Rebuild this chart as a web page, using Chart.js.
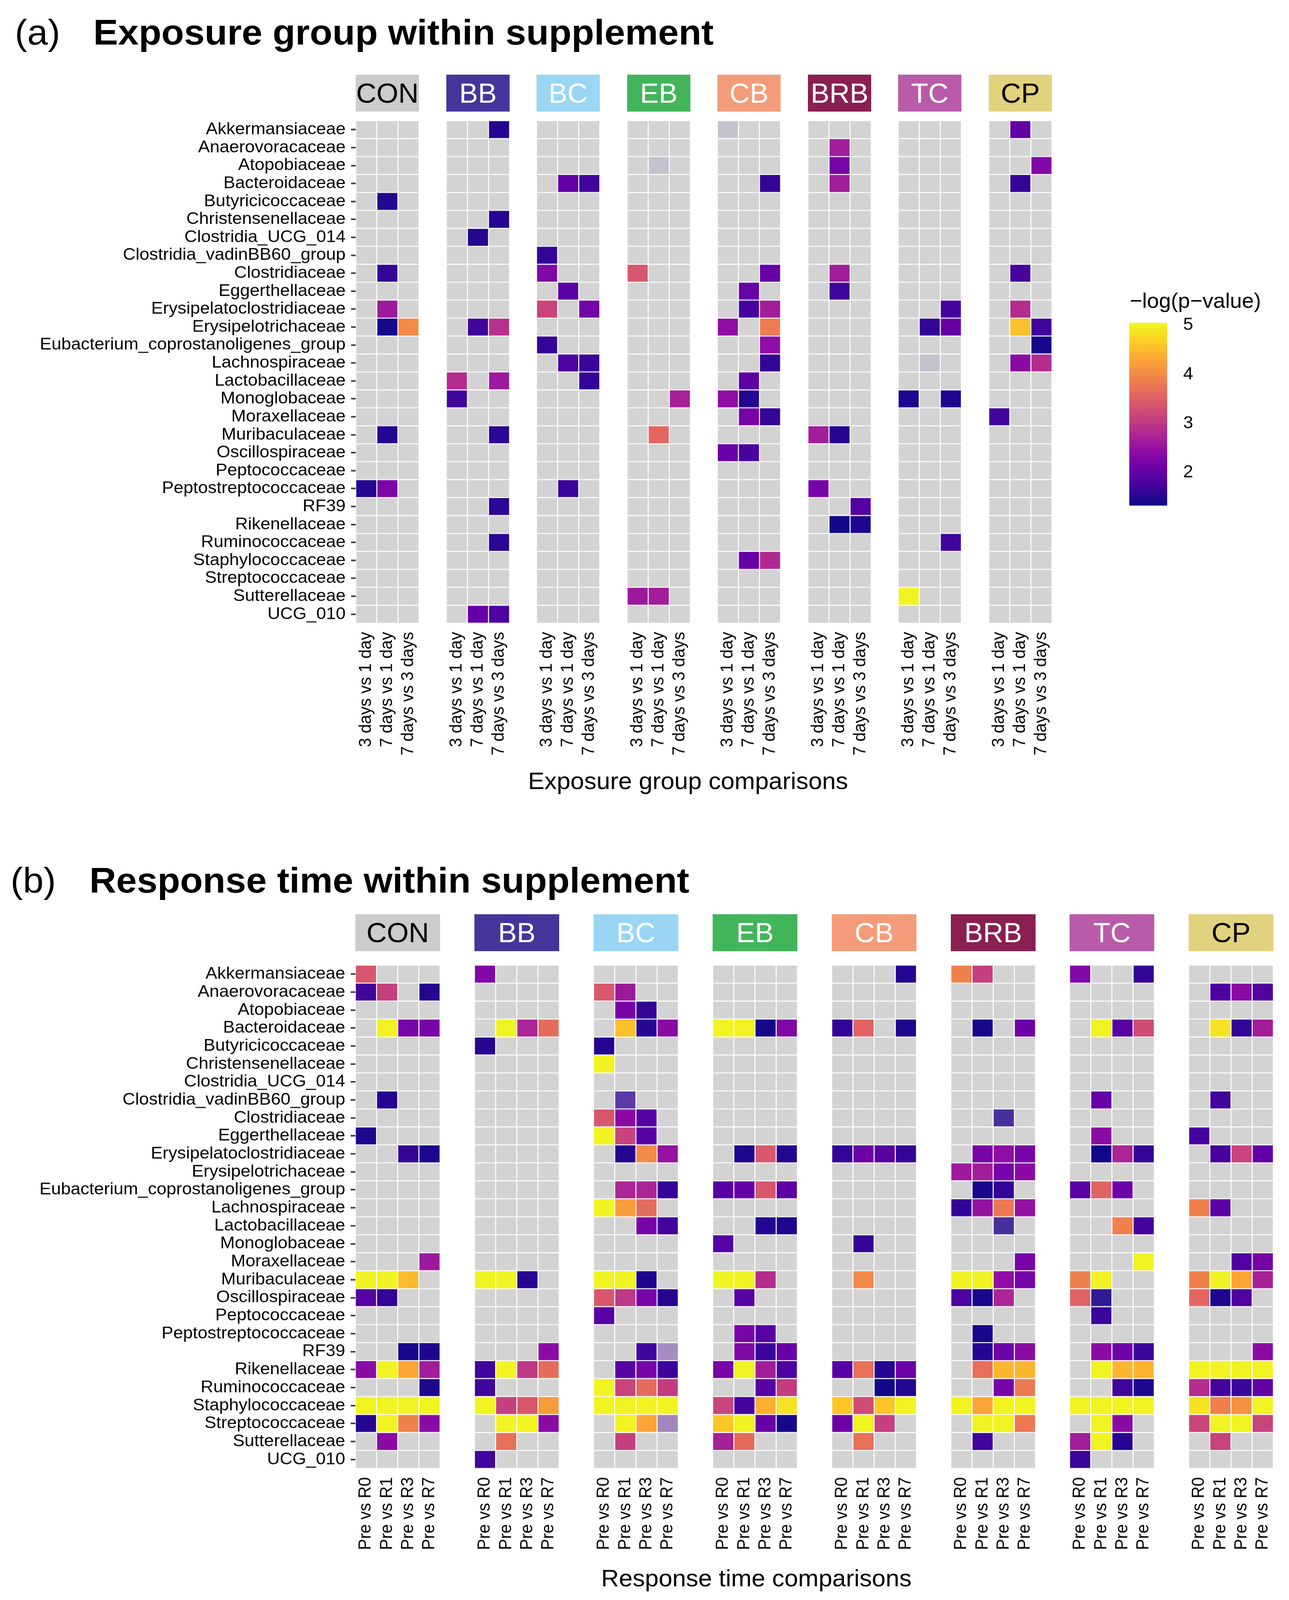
<!DOCTYPE html>
<html>
<head>
<meta charset="utf-8">
<script src="https://cdn.jsdelivr.net/npm/chart.js@4.4.1/dist/chart.umd.min.js"></script>
<style>
html, body { margin: 0; padding: 0; background: #fff; overflow: hidden; }
#page { position: relative; width: 3301px; height: 4244px; overflow: hidden; background: #fff;
        font-family: 'Liberation Sans', Arial, Helvetica, sans-serif; color: #000; transform-origin: 0 0; }
.t { position: absolute; white-space: nowrap; line-height: 1; }
.strip { position: absolute; display: flex; align-items: center; justify-content: center;
         font-size: 72px; line-height: 1; }
canvas { position: absolute; }
</style>
</head>
<body>
<div id="page"></div>
<script>
// ---------------- DATA ----------------
const families = [
  "Akkermansiaceae", "Anaerovoracaceae", "Atopobiaceae", "Bacteroidaceae", "Butyricicoccaceae",
  "Christensenellaceae", "Clostridia_UCG_014", "Clostridia_vadinBB60_group", "Clostridiaceae",
  "Eggerthellaceae", "Erysipelatoclostridiaceae", "Erysipelotrichaceae",
  "Eubacterium_coprostanoligenes_group", "Lachnospiraceae", "Lactobacillaceae", "Monoglobaceae",
  "Moraxellaceae", "Muribaculaceae", "Oscillospiraceae", "Peptococcaceae",
  "Peptostreptococcaceae", "RF39", "Rikenellaceae", "Ruminococcaceae", "Staphylococcaceae",
  "Streptococcaceae", "Sutterellaceae", "UCG_010"
];
const supplements = ["CON", "BB", "BC", "EB", "CB", "BRB", "TC", "CP"];
const exposureComparisons = ["3 days vs 1 day", "7 days vs 1 day", "7 days vs 3 days"];
const responseComparisons = ["Pre vs R0", "Pre vs R1", "Pre vs R3", "Pre vs R7"];
const colorbarMin = 1.33;
const colorbarMax = 5.05;
const colorbarTicks = [2, 3, 4, 5];

// cells: [family index, comparison index, -log(p-value), optional opacity]; missing cells = NA
const expCON = [[4,1,1.5],[8,1,1.6],[10,1,2.6],[11,1,1.4],[11,2,4.0],[17,1,1.5],[20,0,1.5],[20,1,2.25]];
const expBB  = [[0,2,1.5],[5,2,1.5],[6,1,1.5],[11,1,1.7],[11,2,2.9],[14,0,2.85],[14,2,2.6],[15,0,1.7],
                [17,2,1.55],[21,2,1.55],[23,2,1.55],[27,1,2.05],[27,2,1.8]];
const expBC  = [[3,1,2.0],[3,2,1.7],[7,0,1.6],[8,0,2.3],[9,1,1.95],[10,0,3.15],[10,2,2.15],[12,0,1.6],
                [13,1,1.8],[13,2,1.65],[14,2,1.6],[20,1,1.65]];
const expEB  = [[2,1,1.4,0.08],[8,0,3.4],[15,2,2.7],[17,1,3.6],[26,0,2.6],[26,1,2.65]];
const expCB  = [[0,0,1.4,0.08],[3,2,1.6],[8,2,2.05],[9,1,2.05],[10,1,1.75],[10,2,2.65],[11,0,2.45],
                [11,2,3.85],[12,2,2.45],[13,2,1.6],[14,1,1.95],[15,0,2.45],[15,1,1.5],[16,1,2.2],
                [16,2,1.6],[18,0,2.05],[18,1,1.75],[24,1,2.05],[24,2,2.8]];
const expBRB = [[1,1,2.65],[2,1,2.2],[3,1,2.65],[8,1,2.65],[9,1,1.7],[17,0,2.65],[17,1,1.5],[20,0,2.2],
                [21,2,1.85],[22,1,1.35],[22,2,1.45]];
const expTC  = [[10,2,1.75],[11,1,1.6],[11,2,2.05],[13,1,1.4,0.08],[15,0,1.45],[15,2,1.45],[23,2,1.7],[26,0,5.0]];
const expCP  = [[0,1,2.0],[2,2,2.3],[3,1,1.6],[8,1,1.75],[10,1,2.85],[11,1,4.55],[11,2,1.7],[12,2,1.4],
                [13,1,2.4],[13,2,2.85],[16,0,1.7]];

const resCON = [[0,0,3.4],[1,0,1.7],[1,1,3.1],[1,3,1.5],[3,1,5.0],[3,2,2.2],[3,3,2.2],[7,1,1.5],[9,0,1.45],
                [10,2,1.6],[10,3,1.45],[16,3,2.6],[17,0,5.0],[17,1,5.0],[17,2,4.5],[18,0,1.9],[18,1,1.6],
                [21,2,1.4],[21,3,1.45],[22,0,2.4],[22,1,5.0],[22,2,4.3],[22,3,2.65],[23,3,1.45],
                [24,0,5.0],[24,1,5.0],[24,2,5.0],[24,3,5.0],[25,0,1.5],[25,1,5.0],[25,2,3.9],[25,3,2.4],[26,1,2.4]];
const resBB  = [[0,0,2.3],[3,1,5.0],[3,2,2.75],[3,3,3.65],[4,0,1.5],[17,0,5.0],[17,1,5.0],[17,2,1.5],
                [21,3,2.4],[22,0,1.7],[22,1,5.0],[22,2,3.0],[22,3,3.65],[23,0,1.7],[24,0,5.0],[24,1,3.1],
                [24,2,3.4],[24,3,4.2],[25,1,5.0],[25,2,5.0],[25,3,2.4],[26,1,3.7],[27,0,1.7]];
const resBC  = [[1,0,3.4],[1,1,2.6],[2,1,2.2],[2,2,1.6],[3,1,4.55],[3,2,1.5],[3,3,2.4],[4,0,1.5],[5,0,5.0],
                [7,1,1.6,0.75],[8,0,3.4],[8,1,2.4],[8,2,1.9],[9,0,5.0],[9,1,3.15],[9,2,1.9],[10,1,1.5],
                [10,2,4.0],[10,3,2.5],[12,1,2.75],[12,2,2.75],[12,3,1.6],[13,0,5.0],[13,1,4.2],[13,2,3.65],
                [14,2,2.2],[14,3,1.7],[17,0,5.0],[17,1,5.0],[17,2,1.45],[18,0,3.4],[18,1,3.0],[18,2,2.2],
                [18,3,1.5],[19,0,1.9],[21,2,1.7],[21,3,1.8,0.34],[22,1,1.9],[22,2,2.2],[22,3,1.65],
                [23,0,5.0],[23,1,3.15],[23,2,3.65],[23,3,3.05],[24,0,5.0],[24,1,5.0],[24,2,5.0],[24,3,5.0],
                [25,1,5.0],[25,2,4.3],[25,3,1.8,0.37],[26,1,3.1]];
const resEB  = [[3,0,5.0],[3,1,5.0],[3,2,1.4],[3,3,2.3],[10,1,1.45],[10,2,3.4],[10,3,1.5],[12,0,1.9],
                [12,1,2.05],[12,2,3.4],[12,3,1.95],[14,2,1.5],[14,3,1.45],[15,0,1.9],[17,0,5.0],[17,1,5.0],
                [17,2,2.85],[18,1,1.9],[20,1,2.2],[20,2,1.9],[21,1,2.3],[21,2,1.65],[21,3,2.05],[22,0,2.2],
                [22,1,5.0],[22,2,2.65],[22,3,1.8],[23,2,1.9],[23,3,3.05],[24,0,3.15],[24,1,1.75],[24,2,4.4],
                [24,3,4.85],[25,0,4.6],[25,1,5.0],[25,2,2.05],[25,3,1.4],[26,0,2.7],[26,1,3.65]];
const resCB  = [[0,3,1.5],[3,0,1.6],[3,1,3.55],[3,3,1.45],[10,0,1.6],[10,1,2.1],[10,2,1.9],[10,3,1.6],
                [15,1,1.6],[17,1,4.0],[22,0,1.9],[22,1,3.7],[22,2,1.5],[22,3,2.1],[23,2,1.35],[23,3,1.5],
                [24,0,4.6],[24,1,3.25],[24,2,4.6],[24,3,5.0],[25,0,2.1],[25,1,5.0],[25,2,3.1],[26,1,3.7]];
const resBRB = [[0,0,3.9],[0,1,3.1],[3,1,1.4],[3,3,2.1],[8,2,1.5,0.8],[10,1,2.2],[10,2,2.45],[10,3,2.2],
                [11,0,2.6],[11,1,2.65],[11,2,2.2],[11,3,2.4],[12,1,1.4],[12,2,1.6],[13,0,1.6],[13,1,2.5],
                [13,2,3.8],[13,3,2.5],[14,2,1.5,0.8],[16,3,2.2],[17,0,5.0],[17,1,5.0],[17,2,2.45],[17,3,2.2],
                [18,0,1.8],[18,1,1.4],[18,2,2.75],[20,1,1.4],[21,1,1.5],[21,2,2.1],[21,3,2.4],[22,1,3.7],
                [22,2,4.45],[22,3,4.45],[23,2,2.2],[23,3,3.8],[24,0,5.0],[24,1,4.3],[24,2,5.0],[24,3,5.0],
                [25,1,5.0],[25,2,5.0],[25,3,3.8],[26,1,1.7]];
const resTC  = [[0,0,2.3],[0,3,1.6],[3,1,5.0],[3,2,1.9],[3,3,3.25],[7,1,2.05],[9,1,2.4],[10,1,1.35],
                [10,2,2.75],[10,3,1.6],[12,0,1.95],[12,1,3.55],[12,2,2.1],[14,2,3.9],[14,3,1.75],[16,3,5.0],
                [17,0,3.9],[17,1,5.0],[18,0,3.55],[18,1,1.45,0.9],[19,1,1.65],[21,1,2.4],[21,2,2.1],
                [21,3,1.65],[22,1,5.0],[22,2,4.45],[22,3,4.45],[23,2,1.7],[23,3,1.45],[24,0,5.0],[24,1,5.0],
                [24,2,5.0],[24,3,5.0],[25,1,5.0],[25,2,2.4],[26,0,2.65],[26,1,5.0],[26,2,1.5],[27,0,1.65]];
const resCP  = [[1,1,1.8],[1,2,2.4],[1,3,1.85],[3,1,4.85],[3,2,1.6],[3,3,2.65],[7,1,1.7],[9,0,1.75],
                [10,1,1.75],[10,2,3.15],[10,3,2.0],[13,0,3.9],[13,1,1.95],[16,2,1.85],[16,3,2.2],[17,0,3.9],
                [17,1,5.0],[17,2,4.3],[17,3,2.7],[18,0,3.6],[18,1,1.45],[18,2,1.85],[21,3,2.4],[22,0,5.0],
                [22,1,5.0],[22,2,5.0],[22,3,5.0],[23,0,2.85],[23,1,1.75],[23,2,1.65],[23,3,2.0],[24,0,4.85],
                [24,1,3.9],[24,2,4.1],[24,3,5.0],[25,0,3.15],[25,1,5.0],[25,2,5.0],[25,3,3.15],[26,1,3.15]];

const exposureCells = [expCON, expBB, expBC, expEB, expCB, expBRB, expTC, expCP];
const responseCells = [resCON, resBB, resBC, resEB, resCB, resBRB, resTC, resCP];

// ---------------- STYLE ----------------
const FONT = "'Liberation Sans', Arial, Helvetica, sans-serif";
Chart.defaults.font.family = FONT;
const stripStyles = {
  CON: ['#cccccc', '#000'], BB: ['#44359a', '#fff'], BC: ['#9ad6f4', '#fff'], EB: ['#42b55b', '#fff'],
  CB: ['#f49c7a', '#fff'], BRB: ['#8a1f51', '#fff'], TC: ['#b95ba9', '#fff'], CP: ['#e1d27d', '#000']
};
const naRgb = [211, 211, 211];
const plasmaStops = ['#0d0887','#41049d','#6a00a8','#8f0da4','#b12a90','#cc4778',
                     '#e16462','#f2844b','#fca636','#fcce25','#f0f921'];
const plasmaRgb = plasmaStops.map(h => [1, 3, 5].map(i => parseInt(h.substr(i, 2), 16)));
function plasma(t) {
  t = Math.max(0, Math.min(1, t));
  const s = t * (plasmaRgb.length - 1);
  const i = Math.min(plasmaRgb.length - 2, Math.floor(s));
  const f = s - i;
  return plasmaRgb[i].map((x, k) => x + (plasmaRgb[i + 1][k] - x) * f);
}
function rgbStr(c) { return 'rgb(' + c.map(x => Math.round(x)).join(',') + ')'; }
function cellColor(cell) {
  if (!cell) return rgbStr(naRgb);
  let c = plasma((cell.v - colorbarMin) / (colorbarMax - colorbarMin));
  if (cell.o < 1) c = c.map((x, k) => naRgb[k] + (x - naRgb[k]) * cell.o);
  return rgbStr(c);
}

const PAGE_W = 3301, PAGE_H = 4244;
const page = document.getElementById('page');
// fit the page to the visible viewport (no-op when the viewport is the full 3301x4244)
(function fit() {
  const vw = window.innerWidth || PAGE_W, vh = window.innerHeight || PAGE_H;
  const sx = Math.min(1, vw / PAGE_W), sy = Math.min(1, vh / PAGE_H);
  if (sx < 1 || sy < 1) page.style.transform = 'scale(' + sx + ',' + sy + ')';
})();

function addText(txt, o) {
  const d = document.createElement('div');
  d.className = 't';
  d.textContent = txt;
  d.style.fontSize = o.size + 'px';
  d.style.fontWeight = o.weight || 'normal';
  d.style.top = (o.baseline - 0.8465 * o.size) + 'px';
  d.style.left = o.left + 'px';
  if (o.center) d.style.transform = 'translateX(-50%)';
  page.appendChild(d);
}

// ---------------- PANELS ----------------
const panels = [
  { tag: '(a)', title: 'Exposure group within supplement', tagLeft: 38, titleLeft: 239, titleBase: 118,
    stripTop: 198, stripH: 98, cellTop: 320, cellH: 1333, firstLeft: 911, pitch: 231.5, facetW: 162,
    xAxisH: 380, comps: exposureComparisons, cells: exposureCells,
    axisTitle: 'Exposure group comparisons', axisX: 1762, axisBase: 2093 },
  { tag: '(b)', title: 'Response time within supplement', tagLeft: 27, titleLeft: 229, titleBase: 2368,
    stripTop: 2425, stripH: 98, cellTop: 2560, cellH: 1335, firstLeft: 910, pitch: 304.9, facetW: 217,
    xAxisH: 240, comps: responseComparisons, cells: responseCells,
    axisTitle: 'Response time comparisons', axisX: 1937, axisBase: 4208 }
];

panels.forEach(P => {
  addText(P.tag, { left: P.tagLeft, baseline: P.titleBase, size: 95 });
  addText(P.title, { left: P.titleLeft, baseline: P.titleBase, size: 95, weight: 'bold' });
  addText(P.axisTitle, { left: P.axisX, baseline: P.axisBase, size: 63, center: true });

  supplements.forEach((sup, k) => {
    const facetLeft = Math.round(P.firstLeft + k * P.pitch);
    const s = document.createElement('div');
    s.className = 'strip';
    s.textContent = sup;
    s.style.left = facetLeft + 'px';
    s.style.top = P.stripTop + 'px';
    s.style.width = P.facetW + 'px';
    s.style.height = P.stripH + 'px';
    s.style.background = stripStyles[sup][0];
    s.style.color = stripStyles[sup][1];
    page.appendChild(s);

    const grid = families.map(() => P.comps.map(() => null));
    P.cells[k].forEach(c => { grid[c[0]][c[1]] = { v: c[2], o: c.length > 3 ? c[3] : 1 }; });

    const showY = k === 0;
    const yAxisW = showY ? facetLeft : 0;
    const cv = document.createElement('canvas');
    const W = yAxisW + P.facetW, H = P.cellH + P.xAxisH;
    cv.width = W; cv.height = H;
    cv.style.left = (facetLeft - yAxisW) + 'px';
    cv.style.top = P.cellTop + 'px';
    cv.style.width = W + 'px'; cv.style.height = H + 'px';
    page.appendChild(cv);

    const comps = P.comps;
    new Chart(cv, {
      type: 'bar',
      data: {
        labels: families,
        datasets: comps.map((c, j) => ({
          label: c,
          data: families.map(() => 1),
          backgroundColor: (ctx) => cellColor(grid[ctx.dataIndex][j]),
          borderColor: '#ffffff',
          borderWidth: 1.6,
          borderSkipped: false,
          categoryPercentage: 1,
          barPercentage: 1
        }))
      },
      options: {
        indexAxis: 'y',
        responsive: false,
        animation: false,
        devicePixelRatio: 1,
        events: [],
        layout: { padding: 0 },
        plugins: { legend: { display: false }, tooltip: { enabled: false }, title: { display: false } },
        scales: {
          x: {
            type: 'linear', stacked: true, min: 0, max: comps.length,
            grid: { display: false }, border: { display: false },
            afterBuildTicks: (sc) => { sc.ticks = comps.map((c, i) => ({ value: i + 0.5 })); },
            ticks: {
              autoSkip: false, minRotation: 90, maxRotation: 90, padding: 15,
              font: { size: 44, family: FONT }, color: '#000',
              callback: (v, i) => comps[i]
            },
            afterFit: (sc) => { sc.height = P.xAxisH; sc.paddingLeft = 0; sc.paddingRight = 0; }
          },
          y: {
            type: 'category', stacked: true, display: showY, offset: true,
            grid: { offset: false, drawOnChartArea: false, drawTicks: true, tickLength: 12,
                    tickWidth: 4, tickColor: '#333333', color: '#333333' },
            border: { display: false },
            ticks: { autoSkip: false, padding: 14, font: { size: 45, family: FONT }, color: '#000' },
            afterFit: (sc) => { sc.width = yAxisW; sc.paddingTop = 0; sc.paddingBottom = 0; }
          }
        }
      }
    });
  });
});

// ---------------- COLOUR BAR ----------------
addText('\u2212log(p\u2212value)', { left: 2893, baseline: 817, size: 55 });
(function () {
  const barLeft = 2892, barTop = 856, barW = 97, barH = 485, padV = 40, axisW = 110;
  const cv = document.createElement('canvas');
  cv.width = barW + axisW; cv.height = barH + 2 * padV;
  cv.style.left = barLeft + 'px'; cv.style.top = (barTop - padV) + 'px';
  cv.style.width = cv.width + 'px'; cv.style.height = cv.height + 'px';
  page.appendChild(cv);
  new Chart(cv, {
    type: 'bar',
    data: {
      labels: [''],
      datasets: [{
        data: [[colorbarMin, colorbarMax]],
        backgroundColor: (ctx) => {
          const ch = ctx.chart, area = ch.chartArea;
          if (!area) return plasmaStops[0];
          const g = ch.ctx.createLinearGradient(0, area.bottom, 0, area.top);
          plasmaStops.forEach((c, i) => g.addColorStop(i / (plasmaStops.length - 1), c));
          return g;
        },
        borderWidth: 0, categoryPercentage: 1, barPercentage: 1
      }]
    },
    options: {
      responsive: false, animation: false, devicePixelRatio: 1, events: [],
      layout: { padding: { top: padV, bottom: padV, left: 0, right: 0 } },
      plugins: { legend: { display: false }, tooltip: { enabled: false } },
      scales: {
        x: { display: false },
        y: {
          position: 'right', min: colorbarMin, max: colorbarMax,
          grid: { display: false }, border: { display: false },
          afterBuildTicks: (sc) => { sc.ticks = colorbarTicks.map(v => ({ value: v })); },
          ticks: { padding: 33, font: { size: 46, family: FONT }, color: '#000', callback: (v) => String(v) },
          afterFit: (sc) => { sc.width = axisW; sc.paddingTop = 0; sc.paddingBottom = 0; }
        }
      }
    }
  });
})();
</script>
</body>
</html>
